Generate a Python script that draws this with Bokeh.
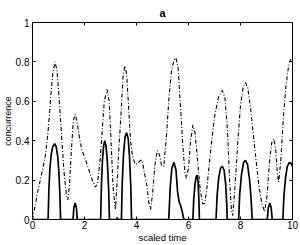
from bokeh.plotting import figure
from bokeh.models import Range1d, LinearAxis, FixedTicker, Title
from bokeh.embed import file_html
from bokeh.resources import INLINE

# ---- data ----
# upper bound (dash-dot)
t_bound = [0.00, 0.10, 0.20, 0.30, 0.40, 0.50, 0.60, 0.70, 0.78, 0.86, 0.94, 1.00,
           1.08, 1.15, 1.22, 1.30, 1.36, 1.42, 1.50, 1.57, 1.64, 1.71, 1.80, 1.90,
           2.00, 2.10, 2.20, 2.30, 2.42, 2.50, 2.60, 2.68, 2.76, 2.87, 2.95, 3.02,
           3.10, 3.19, 3.26, 3.33, 3.41, 3.48, 3.55, 3.62, 3.70, 3.77, 3.85, 3.95,
           4.05, 4.15, 4.22, 4.30, 4.40, 4.48, 4.54, 4.62, 4.70, 4.80, 4.88, 4.97,
           5.05, 5.15, 5.25, 5.35, 5.45, 5.52, 5.60, 5.68, 5.78, 5.86, 5.92, 6.00,
           6.08, 6.17, 6.25, 6.35, 6.45, 6.55, 6.62, 6.70, 6.85, 7.00, 7.15, 7.30,
           7.40, 7.50, 7.58, 7.65, 7.70, 7.78, 7.90, 8.00, 8.10, 8.19, 8.28, 8.40,
           8.55, 8.70, 8.82, 8.93, 9.02, 9.12, 9.20, 9.28, 9.35, 9.42, 9.47, 9.55,
           9.65, 9.75, 9.85, 9.92, 10.00]
c_bound = [0.00, 0.07, 0.14, 0.20, 0.26, 0.33, 0.45, 0.62, 0.74, 0.80, 0.76, 0.66,
           0.50, 0.36, 0.23, 0.13, 0.10, 0.17, 0.36, 0.50, 0.535, 0.50, 0.42, 0.35,
           0.32, 0.28, 0.24, 0.20, 0.165, 0.18, 0.30, 0.45, 0.60, 0.66, 0.60, 0.40,
           0.16, 0.05, 0.20, 0.38, 0.55, 0.72, 0.78, 0.74, 0.56, 0.40, 0.32, 0.28,
           0.285, 0.30, 0.30, 0.24, 0.17, 0.08, 0.05, 0.13, 0.27, 0.35, 0.33, 0.27,
           0.27, 0.42, 0.62, 0.76, 0.81, 0.82, 0.77, 0.60, 0.38, 0.24, 0.21, 0.26,
           0.40, 0.48, 0.44, 0.30, 0.15, 0.08, 0.08, 0.15, 0.35, 0.52, 0.62, 0.655,
           0.62, 0.45, 0.20, 0.05, 0.02, 0.15, 0.40, 0.58, 0.67, 0.695, 0.67, 0.55,
           0.36, 0.18, 0.08, 0.04, 0.12, 0.30, 0.39, 0.41, 0.36, 0.23, 0.19, 0.30,
           0.52, 0.68, 0.78, 0.81, 0.82]

# concurrence (solid)
t_conc = [0.00, 0.60, 0.63, 0.67, 0.72, 0.78, 0.85, 0.91, 0.97, 1.01, 1.05, 1.08,
          1.56, 1.59, 1.64, 1.69, 1.72,
          2.62, 2.65, 2.69, 2.74, 2.78, 2.83, 2.88, 2.93, 2.96,
          3.23, 3.26, 3.29,
          3.42, 3.45, 3.50, 3.56, 3.62, 3.68, 3.73, 3.78, 3.81,
          5.24, 5.30, 5.36, 5.44, 5.52, 5.58, 5.64, 5.70, 5.76, 5.82,
          6.17, 6.20, 6.25, 6.30, 6.33, 6.37, 6.40, 6.42,
          7.06, 7.10, 7.16, 7.23, 7.30, 7.37, 7.43, 7.47, 7.49,
          7.93, 7.97, 8.04, 8.12, 8.19, 8.27, 8.35, 8.41, 8.45,
          9.03, 9.07, 9.13, 9.18, 9.22,
          9.63, 9.67, 9.73, 9.80, 9.88, 9.94, 10.00]
c_conc = [0.00, 0.00, 0.15, 0.26, 0.33, 0.37, 0.385, 0.37, 0.32, 0.25, 0.14, 0.00,
          0.00, 0.06, 0.084, 0.06, 0.00,
          0.00, 0.17, 0.30, 0.38, 0.40, 0.37, 0.29, 0.15, 0.00,
          0.00, 0.01, 0.00,
          0.00, 0.18, 0.33, 0.42, 0.44, 0.41, 0.32, 0.17, 0.00,
          0.00, 0.17, 0.26, 0.29, 0.25, 0.14, 0.09, 0.07, 0.04, 0.00,
          0.00, 0.10, 0.18, 0.22, 0.225, 0.19, 0.10, 0.00,
          0.00, 0.12, 0.21, 0.26, 0.27, 0.25, 0.18, 0.08, 0.00,
          0.00, 0.13, 0.23, 0.29, 0.30, 0.28, 0.20, 0.10, 0.00,
          0.00, 0.06, 0.084, 0.06, 0.00,
          0.00, 0.12, 0.21, 0.27, 0.29, 0.285, 0.27]

x_ticks = [0, 2, 4, 6, 8, 10]
y_ticks = [0, 0.2, 0.4, 0.6, 0.8, 1]
y_tick_labels = ["0", "0.2", "0.4", "0.6", "0.8", "1"]
title_text = "a"
x_label = "scaled time"
y_label = "concurrence"

FONT = "Liberation Sans"

p = figure(width=300, height=245, output_backend="svg", toolbar_location=None,
           x_range=Range1d(0, 10), y_range=Range1d(0, 1),
           min_border_left=32, min_border_right=8, min_border_top=21, min_border_bottom=25)
p.grid.visible = False
p.outline_line_color = "black"
p.background_fill_color = "white"
p.border_fill_color = "white"

p.title.text = title_text
p.title.align = "center"
p.title.text_font = FONT
p.title.text_font_size = "11px"
p.title.text_font_style = "bold"
p.title.text_color = "black"
p.title.standoff = 8
p.title.offset = 0


def style(ax, labels=True):
    ax.major_tick_in = 3
    ax.major_tick_out = 0
    ax.minor_tick_line_color = None
    ax.axis_line_color = "black"
    ax.major_tick_line_color = "black"
    ax.major_label_text_font = FONT
    if labels:
        ax.major_label_text_font_size = "10px"
        ax.major_label_text_color = "black"
        ax.axis_label_text_font = FONT
        ax.axis_label_text_font_size = "9.5px"
        ax.axis_label_text_font_style = "normal"
        ax.axis_label_text_color = "black"
    else:
        ax.major_label_text_font_size = "0px"
        ax.major_label_text_color = None
        ax.major_label_standoff = 0


xa = p.xaxis[0]
xa.ticker = FixedTicker(ticks=x_ticks)
style(xa)
xa.major_label_standoff = 1
xa.axis_label = x_label
xa.axis_label_standoff = 0

ya = p.yaxis[0]
ya.ticker = FixedTicker(ticks=y_ticks)
ya.major_label_overrides = {v: s for v, s in zip(y_ticks, y_tick_labels)}
style(ya)
ya.major_label_standoff = 3

top = LinearAxis(ticker=FixedTicker(ticks=x_ticks))
style(top, labels=False)
p.add_layout(top, "above")
right = LinearAxis(ticker=FixedTicker(ticks=y_ticks))
style(right, labels=False)
p.add_layout(right, "right")

p.add_layout(Title(text=y_label, align="center", text_font=FONT, text_font_size="9px",
                   text_font_style="normal", text_color="black", standoff=0, offset=0),
             "left")

p.line(t_bound, c_bound, line_color="black", line_width=1.1, line_dash="4 2 1 2")
p.line(t_conc, c_conc, line_color="black", line_width=1.7)

open("out.html", "w").write(file_html(p, INLINE))
